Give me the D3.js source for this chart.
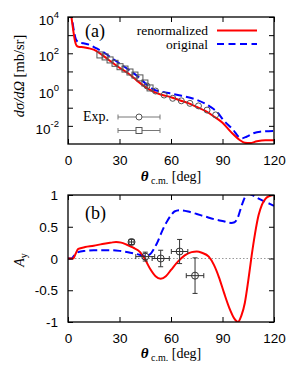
<!DOCTYPE html>
<html>
<head>
<meta charset="utf-8">
<script src="https://cdn.jsdelivr.net/npm/d3@7"></script>
<style>
  body { margin: 0; background: #fff; }
</style>
</head>
<body>
<svg id="chart" width="291" height="382"></svg>
<script>
// ---- data ----
const xTicks = [0, 30, 60, 90, 120];
const yDecadesA = [1e-2, 1e-1, 1, 1e1, 1e2, 1e3, 1e4];
const yLabelExpA = [-2, 0, 2, 4];
const yTicksB = [-1, -0.5, 0, 0.5, 1];

// panel (a): cross sections
const thetaRenormA = [0, 1, 2, 3, 4, 5, 6, 9, 12, 15, 20, 25, 30, 35, 40, 45, 50, 55, 60, 65, 70, 75, 80, 85, 90, 95, 100, 103, 106, 110, 115, 120];
const xsRenormA = [1e5, 4e4, 1e4, 2000, 500, 263, 229, 214, 190, 158, 79, 35, 16, 7.9, 3.2, 1.4, 0.74, 0.5, 0.38, 0.26, 0.18, 0.11, 0.066, 0.033, 0.0148, 0.0045, 0.00166, 0.00117, 0.00112, 0.0014, 0.0016, 0.0016];
const thetaOrigA = [0, 2, 3.5, 4.5, 6, 9, 13, 16, 21.6, 26, 31.3, 36, 40.9, 46.8, 50, 54.6, 59.4, 64, 68, 75, 82.7, 87, 90.5, 96.3, 99.2, 101.5, 104, 108, 112, 120];
const xsOrigA = [1e5, 1.26e4, 1585, 631, 417, 355, 282, 200, 100, 50, 22.9, 11.2, 5.1, 1.58, 1.0, 0.76, 0.62, 0.5, 0.42, 0.27, 0.115, 0.056, 0.021, 0.0059, 0.0026, 0.0021, 0.0025, 0.0039, 0.0048, 0.0052];
const thetaSquares = [18.6, 21.6, 24.5, 27.4, 30.3, 33.2, 36.1, 39, 41.9, 44.8, 47.8];
const xsSquares = [81, 63, 43, 28, 18.2, 13.5, 9.3, 6.3, 4.4, 2.3, 1.23];
const thetaCircles = [46, 51, 56, 61, 66, 71, 76, 81, 86];
const xsCircles = [1.58, 0.83, 0.5, 0.33, 0.24, 0.174, 0.126, 0.074, 0.04];

// panel (b): analyzing power
const thetaRenormB = [0, 3, 4.5, 6, 10, 15, 20, 25, 28, 31, 34, 38, 42, 45, 48, 51, 54, 57, 60, 64, 68, 72, 75, 78, 82, 85, 88, 91, 94, 97, 99, 101, 103, 105, 107, 109, 111, 113, 115, 117, 120];
const ayRenormB = [0, 0, 0.08, 0.15, 0.18, 0.2, 0.23, 0.25, 0.26, 0.25, 0.22, 0.17, 0.1, -0.02, -0.17, -0.28, -0.32, -0.28, -0.18, -0.05, 0.05, 0.1, 0.11, 0.09, 0.03, -0.1, -0.3, -0.55, -0.78, -0.95, -1.0, -0.9, -0.7, -0.35, 0.05, 0.4, 0.68, 0.85, 0.94, 0.98, 1.0];
const thetaOrigB = [0, 2, 4, 6, 10, 15, 25, 30, 35, 40, 45, 48, 50, 52, 54, 56, 58, 60, 62, 65, 70, 75, 80, 85, 90, 95, 97, 99, 101, 103, 105, 108, 112, 116, 120];
const ayOrigB = [0, 0, 0.06, 0.1, 0.12, 0.13, 0.13, 0.12, 0.1, 0.07, 0.04, 0.07, 0.15, 0.25, 0.38, 0.5, 0.6, 0.68, 0.74, 0.76, 0.74, 0.7, 0.66, 0.62, 0.59, 0.56, 0.57, 0.65, 0.82, 0.96, 1.02, 0.99, 0.93, 0.88, 0.83];
const thetaExpB = [37, 45, 54, 65, 74];
const ayExpB = [0.26, 0.03, 0.0, 0.11, -0.27];
const dThetaExpB = [1.5, 5.5, 5, 4.8, 5.1];
const dAyExpB = [0.04, 0.07, 0.13, 0.19, 0.28];

// ---- layout ----
const left = 68, right = 274;
const topA = 17, botA = 144, topB = 195, botB = 322;
const numFont = "'Liberation Sans', Arial, sans-serif";
const serif = "'Liberation Serif', 'Times New Roman', serif";

const svg = d3.select("#chart");

const x = d3.scaleLinear().domain([0, 120]).range([left, right]);
const yA = d3.scaleLog().domain([1e-3, 1e4]).range([botA, topA]);
const yB = d3.scaleLinear().domain([-1, 1]).range([botB, topB]);

const defs = svg.append("defs");
defs.append("clipPath").attr("id", "clipA").append("rect")
  .attr("x", left).attr("y", topA).attr("width", right - left).attr("height", botA - topA);
defs.append("clipPath").attr("id", "clipB").append("rect")
  .attr("x", left).attr("y", topB).attr("width", right - left).attr("height", botB - topB);

function styleAxis(g) {
  g.select(".domain").remove();
  g.selectAll("line").attr("stroke", "#000").attr("stroke-width", 1);
  g.attr("font-family", numFont).attr("font-size", 13.5);
}

// draws the frame with inward ticks on all four sides
function frame(y, yTop, yBot, yTickVals) {
  svg.append("g").attr("transform", `translate(0,${yBot})`)
    .call(d3.axisBottom(x).tickValues(xTicks).tickSizeInner(-5).tickSizeOuter(0).tickPadding(11))
    .call(styleAxis);
  svg.append("g").attr("transform", `translate(0,${yTop})`)
    .call(d3.axisTop(x).tickValues(xTicks).tickSizeInner(-5).tickSizeOuter(0).tickFormat(""))
    .call(styleAxis);
  svg.append("g").attr("transform", `translate(${left},0)`)
    .call(d3.axisLeft(y).tickValues(yTickVals).tickSizeInner(-5).tickSizeOuter(0).tickFormat(""))
    .call(styleAxis);
  svg.append("g").attr("transform", `translate(${right},0)`)
    .call(d3.axisRight(y).tickValues(yTickVals).tickSizeInner(-5).tickSizeOuter(0).tickFormat(""))
    .call(styleAxis);
  svg.append("rect").attr("x", left).attr("y", yTop)
    .attr("width", right - left).attr("height", yBot - yTop)
    .attr("fill", "none").attr("stroke", "#000").attr("stroke-width", 1.3);
}

function xLabel(yBase) {
  const t = svg.append("text").attr("x", 171).attr("y", yBase)
    .attr("text-anchor", "middle").attr("font-family", serif).attr("font-size", 14);
  t.append("tspan").attr("font-style", "italic").attr("font-weight", "bold").attr("font-size", 15).text("θ");
  t.append("tspan").attr("font-size", 10).attr("dy", 3).text(" c.m.");
  t.append("tspan").attr("dy", -3).text(" [deg]");
}

function drawCurve(xs, ys, y, color, dash, clip) {
  const line = d3.line()
    .x((d, i) => x(xs[i]))
    .y(d => y(d))
    .curve(d3.curveMonotoneX);
  svg.append("path").datum(ys)
    .attr("clip-path", `url(#${clip})`)
    .attr("d", line)
    .attr("fill", "none")
    .attr("stroke", color)
    .attr("stroke-width", 2)
    .attr("stroke-dasharray", dash);
}

// ================= panel (a) =================
drawCurve(thetaOrigA, xsOrigA, yA, "#0000ff", "8,4", "clipA");
drawCurve(thetaRenormA, xsRenormA, yA, "#ff0000", null, "clipA");

const grey = "#555";
svg.append("g").selectAll("rect").data(thetaSquares).join("rect")
  .attr("x", (d) => x(d) - 3).attr("y", (d, i) => yA(xsSquares[i]) - 3)
  .attr("width", 6).attr("height", 6)
  .attr("fill", "none").attr("stroke", grey).attr("stroke-width", 1);
svg.append("g").selectAll("circle").data(thetaCircles).join("circle")
  .attr("cx", d => x(d)).attr("cy", (d, i) => yA(xsCircles[i]))
  .attr("r", 3).attr("fill", "none").attr("stroke", grey).attr("stroke-width", 1);

frame(yA, topA, botA, yDecadesA);

// log tick labels with superscripts
yLabelExpA.forEach(e => {
  const t = svg.append("text").attr("x", 59).attr("y", yA(Math.pow(10, e)) + 8)
    .attr("text-anchor", "end").attr("font-family", numFont).attr("font-size", 13.5);
  t.append("tspan").text("10");
  t.append("tspan").attr("dy", -7).attr("font-size", 9.5).text(e);
});

// y label
const ylA = svg.append("text").attr("transform", "translate(24,76) rotate(-90)")
  .attr("text-anchor", "middle").attr("font-family", serif).attr("font-size", 14.5);
ylA.append("tspan").attr("font-style", "italic").text("dσ/dΩ");
ylA.append("tspan").text(" [mb/sr]");

xLabel(181);

svg.append("text").attr("x", 85).attr("y", 37).attr("font-family", serif).attr("font-size", 18).text("(a)");

// legend
svg.append("text").attr("x", 208).attr("y", 34.5).attr("text-anchor", "end")
  .attr("font-family", serif).attr("font-size", 13.5).text("renormalized");
svg.append("line").attr("x1", 217).attr("x2", 257).attr("y1", 30.5).attr("y2", 30.5)
  .attr("stroke", "#ff0000").attr("stroke-width", 2);
svg.append("text").attr("x", 208).attr("y", 48.5).attr("text-anchor", "end")
  .attr("font-family", serif).attr("font-size", 13.5).text("original");
svg.append("line").attr("x1", 217).attr("x2", 257).attr("y1", 44).attr("y2", 44)
  .attr("stroke", "#0000ff").attr("stroke-width", 2).attr("stroke-dasharray", "7,4.5");

svg.append("text").attr("x", 83).attr("y", 121).attr("font-family", serif).attr("font-size", 14).text("Exp.");
[117, 130.5].forEach((ly, k) => {
  svg.append("line").attr("x1", 118).attr("x2", 160).attr("y1", ly).attr("y2", ly)
    .attr("stroke", "#777").attr("stroke-width", 1);
  [118, 160].forEach(cx => svg.append("line").attr("x1", cx).attr("x2", cx)
    .attr("y1", ly - 2.5).attr("y2", ly + 2.5).attr("stroke", "#777").attr("stroke-width", 1));
  if (k === 0) {
    svg.append("circle").attr("cx", 139).attr("cy", ly).attr("r", 3)
      .attr("fill", "#fff").attr("stroke", grey);
  } else {
    svg.append("rect").attr("x", 136).attr("y", ly - 3).attr("width", 6).attr("height", 6)
      .attr("fill", "#fff").attr("stroke", grey);
  }
});

// ================= panel (b) =================
svg.append("line").attr("x1", left).attr("x2", right).attr("y1", yB(0)).attr("y2", yB(0))
  .attr("stroke", "#999").attr("stroke-width", 1).attr("stroke-dasharray", "1.5,2");

drawCurve(thetaOrigB, ayOrigB, yB, "#0000ff", "8,4", "clipB");
drawCurve(thetaRenormB, ayRenormB, yB, "#ff0000", null, "clipB");

const dark = "#333";
const eb = svg.append("g").attr("stroke", dark).attr("stroke-width", 1).attr("fill", "none");
thetaExpB.forEach((t, i) => {
  const cx = x(t), cy = yB(ayExpB[i]);
  const x0 = x(t - dThetaExpB[i]), x1 = x(t + dThetaExpB[i]);
  const y0 = yB(ayExpB[i] - dAyExpB[i]), y1 = yB(ayExpB[i] + dAyExpB[i]);
  eb.append("line").attr("x1", x0).attr("x2", x1).attr("y1", cy).attr("y2", cy);
  eb.append("line").attr("x1", cx).attr("x2", cx).attr("y1", y0).attr("y2", y1);
  eb.append("line").attr("x1", x0).attr("x2", x0).attr("y1", cy - 2.5).attr("y2", cy + 2.5);
  eb.append("line").attr("x1", x1).attr("x2", x1).attr("y1", cy - 2.5).attr("y2", cy + 2.5);
  eb.append("line").attr("x1", cx - 2.5).attr("x2", cx + 2.5).attr("y1", y0).attr("y2", y0);
  eb.append("line").attr("x1", cx - 2.5).attr("x2", cx + 2.5).attr("y1", y1).attr("y2", y1);
  eb.append("circle").attr("cx", cx).attr("cy", cy).attr("r", 3.5);
});

frame(yB, topB, botB, yTicksB);

svg.append("g").selectAll("text").data(yTicksB).join("text")
  .attr("x", 58).attr("y", d => yB(d) + 5)
  .attr("text-anchor", "end").attr("font-family", numFont).attr("font-size", 13.5)
  .text(d => d3.format("")(d).replace("−", "-"));

const ylB = svg.append("text").attr("transform", "translate(24,260) rotate(-90)")
  .attr("text-anchor", "middle").attr("font-family", serif).attr("font-size", 14);
ylB.append("tspan").attr("font-style", "italic").text("A");
ylB.append("tspan").attr("font-size", 10).attr("dy", 3).text("y");

xLabel(358);

svg.append("text").attr("x", 85).attr("y", 219).attr("font-family", serif).attr("font-size", 18).text("(b)");
</script>
</body>
</html>
